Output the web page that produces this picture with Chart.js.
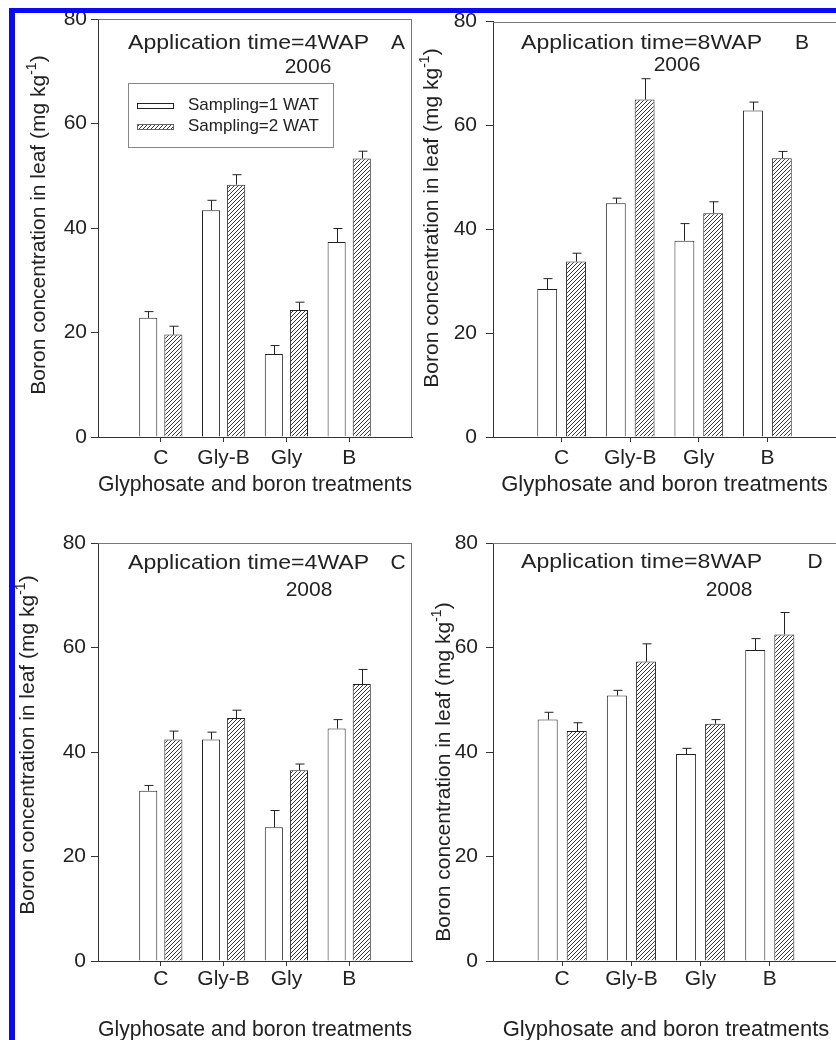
<!DOCTYPE html>
<html>
<head>
<meta charset="utf-8">
<script src="https://cdn.jsdelivr.net/npm/chart.js@4.4.0/dist/chart.umd.min.js"></script>
<style>
  html, body { margin: 0; padding: 0; background: #fff; }
  body { width: 836px; height: 1040px; overflow: hidden; position: relative; }
  .panel { position: absolute; }
  .mask { position: absolute; background: #fff; z-index: 5; }
  .edge { position: absolute; background: #0a0af5; z-index: 6; }
</style>
</head>
<body>
<div class="panel" style="left:0;top:0"><canvas id="pA" width="416" height="520"></canvas></div>
<div class="panel" style="left:416px;top:0"><canvas id="pB" width="424" height="520"></canvas></div>
<div class="panel" style="left:0;top:520px"><canvas id="pC" width="416" height="540"></canvas></div>
<div class="panel" style="left:416px;top:520px"><canvas id="pD" width="424" height="540"></canvas></div>

<div class="mask" style="left:0;top:0;width:836px;height:8px"></div>
<div class="mask" style="left:0;top:0;width:9px;height:1040px"></div>
<div class="edge" style="left:9px;top:8px;width:827px;height:5px"></div>
<div class="edge" style="left:9px;top:8px;width:6px;height:1032px"></div>

<script>
const categories = ['C', 'Gly-B', 'Gly', 'B'];
const yTickValues = [0, 20, 40, 60, 80];
const seriesNames = ['Sampling=1 WAT', 'Sampling=2 WAT'];
const xTitle = 'Glyphosate and boron treatments';

// A: application 4 WAP, 2006
const a1wat = [22.8, 43.4, 15.9, 37.3];
const a1watErr = [1.2, 1.9, 1.6, 2.6];
const a2wat = [19.6, 48.3, 24.3, 53.3];
const a2watErr = [1.6, 1.9, 1.5, 1.4];

// B: application 8 WAP, 2006
const b1wat = [28.5, 45.0, 37.8, 62.9];
const b1watErr = [2.0, 1.0, 3.3, 1.6];
const b2wat = [33.8, 65.0, 43.1, 53.7];
const b2watErr = [1.6, 4.0, 2.2, 1.3];

// C: application 4 WAP, 2008
const c1wat = [32.6, 42.4, 25.6, 44.5];
const c1watErr = [1.0, 1.4, 3.2, 1.7];
const c2wat = [42.4, 46.5, 36.5, 53.0];
const c2watErr = [1.6, 1.5, 1.2, 2.8];

// D: application 8 WAP, 2008
const d1wat = [46.2, 50.8, 39.6, 59.5];
const d1watErr = [1.4, 1.0, 1.1, 2.2];
const d2wat = [44.0, 57.3, 45.4, 62.5];
const d2watErr = [1.6, 3.4, 0.8, 4.2];

const FONT = '"Liberation Sans", Arial, sans-serif';
Chart.defaults.font.family = FONT;
Chart.defaults.color = '#222';

// empty slot on each side of the four groups
const xLabels = [''].concat(categories, ['']);
const pad = arr => [null].concat(arr, [null]);

const hatch = (() => {
  const c = document.createElement('canvas');
  c.width = 4; c.height = 4;
  const g = c.getContext('2d');
  g.fillStyle = '#fff';
  g.fillRect(0, 0, 4, 4);
  g.strokeStyle = '#3a3a3a';
  g.lineWidth = 1;
  g.beginPath();
  g.moveTo(0, 4); g.lineTo(4, 0);
  g.moveTo(-1, 1); g.lineTo(1, -1);
  g.moveTo(3, 5); g.lineTo(5, 3);
  g.stroke();
  return g.createPattern(c, 'repeat');
})();

const panels = [
  { id: 'pA', title: 'Application time=4WAP', letter: 'A', year: '2006',
    s1: a1wat, e1: a1watErr, s2: a2wat, e2: a2watErr, legend: true,
    pad: { left: 0, top: 19, right: 4, bottom: 0 }, yW: 98, xH: 83,
    xTickPad: 4, xTitlePad: 22, yTickPad: 4, cp: 0.80, bp: 0.72, frameRight: true,
    titleX: 128, titleY: 43, letterX: 398, yearX: 308, yearY: 67, yTitleX: 37, yTitleY: 225 },
  { id: 'pB', title: 'Application time=8WAP', letter: 'B', year: '2006',
    s1: b1wat, e1: b1watErr, s2: b2wat, e2: b2watErr,
    pad: { left: 0, top: 19, right: 0, bottom: 0 }, yW: 77, xH: 83,
    xTickPad: 4, xTitlePad: 22, yTickPad: 9, cp: 0.84, bp: 0.69, frameRight: false,
    titleX: 105, titleY: 43, letterX: 386, yearX: 261, yearY: 65, yTitleX: 14, yTitleY: 218 },
  { id: 'pC', title: 'Application time=4WAP', letter: 'C', year: '2008',
    s1: c1wat, e1: c1watErr, s2: c2wat, e2: c2watErr,
    pad: { left: 0, top: 23, right: 4, bottom: 0 }, yW: 98, xH: 99,
    xTickPad: 1, xTitlePad: 17, yTickPad: 5, cp: 0.80, bp: 0.72, frameRight: true,
    titleX: 128, titleY: 43, letterX: 398, yearX: 309, yearY: 70, yTitleX: 26, yTitleY: 225 },
  { id: 'pD', title: 'Application time=8WAP', letter: 'D', year: '2008',
    s1: d1wat, e1: d1watErr, s2: d2wat, e2: d2watErr,
    pad: { left: 0, top: 23, right: 0, bottom: 0 }, yW: 77, xH: 99,
    xTickPad: 1, xTitlePad: 17, yTickPad: 8, cp: 0.84, bp: 0.69, frameRight: false,
    titleX: 105, titleY: 42, letterX: 399, yearX: 313, yearY: 70, yTitleX: 26, yTitleY: 252 }
];

function drawYTitle(ctx, cx, cy) {
  const base = 'Boron concentration in leaf (mg kg';
  const sup = '-1';
  const tail = ')';
  ctx.save();
  ctx.translate(cx, cy);
  ctx.rotate(-Math.PI / 2);
  ctx.fillStyle = '#222';
  ctx.textAlign = 'left';
  ctx.textBaseline = 'alphabetic';
  ctx.font = '21px ' + FONT;
  const wBase = ctx.measureText(base).width;
  const wTail = ctx.measureText(tail).width;
  ctx.font = '14px ' + FONT;
  const wSup = ctx.measureText(sup).width;
  let x = -(wBase + wSup + wTail) / 2;
  ctx.font = '21px ' + FONT;
  ctx.fillText(base, x, 7.5);
  x += wBase;
  ctx.font = '14px ' + FONT;
  ctx.fillText(sup, x, -1.5);
  x += wSup;
  ctx.font = '21px ' + FONT;
  ctx.fillText(tail, x, 7.5);
  ctx.restore();
}

// the scanned lettering is a little wider than the font
function wideText(ctx, text, x, y, align) {
  ctx.save();
  ctx.translate(x, y);
  ctx.scale(1.1, 1);
  ctx.textAlign = align;
  ctx.fillText(text, 0, 0);
  ctx.restore();
}

function deco(p) {
  return {
    id: 'deco' + p.id,
    afterDatasetsDraw(chart) {
      const ctx = chart.ctx;
      const yScale = chart.scales.y;
      const errs = [p.e1, p.e2];
      ctx.save();
      ctx.strokeStyle = '#222';
      ctx.lineWidth = 1;
      chart.data.datasets.forEach((ds, di) => {
        chart.getDatasetMeta(di).data.forEach((bar, i) => {
          const v = ds.data[i];
          if (v === null) return;
          const x = Math.round(bar.x) + 0.5;
          const yTop = yScale.getPixelForValue(v + errs[di][i - 1]);
          ctx.beginPath();
          ctx.moveTo(x, bar.y);
          ctx.lineTo(x, yTop);
          ctx.moveTo(x - 4, yTop);
          ctx.lineTo(x + 5, yTop);
          ctx.stroke();
        });
      });
      ctx.restore();
    },
    afterDraw(chart) {
      const ctx = chart.ctx;
      const a = chart.chartArea;
      ctx.save();
      // top and right frame lines
      ctx.strokeStyle = '#777';
      ctx.lineWidth = 1;
      ctx.beginPath();
      ctx.moveTo(a.left, Math.round(a.top) + 0.5);
      ctx.lineTo(a.right, Math.round(a.top) + 0.5);
      if (p.frameRight) {
        ctx.moveTo(Math.round(a.right) - 0.5, a.top);
        ctx.lineTo(Math.round(a.right) - 0.5, a.bottom);
      }
      ctx.stroke();

      ctx.fillStyle = '#222';
      ctx.font = '21px ' + FONT;
      ctx.textBaseline = 'middle';
      wideText(ctx, p.title, p.titleX, p.titleY, 'left');
      ctx.textAlign = 'center';
      ctx.fillText(p.letter, p.letterX, p.titleY);
      ctx.fillText(p.year, p.yearX, p.yearY);

      if (p.legend) {
        ctx.strokeStyle = '#888';
        ctx.strokeRect(128.5, 83.5, 205, 64);
        ctx.strokeStyle = '#222';
        ctx.fillStyle = '#fff';
        ctx.fillRect(137, 103, 36, 5);
        ctx.strokeRect(137.5, 103.5, 36, 5);
        ctx.fillStyle = hatch;
        ctx.fillRect(137, 124, 36, 5);
        ctx.strokeStyle = '#666';
        ctx.strokeRect(137.5, 124.5, 36, 5);
        ctx.fillStyle = '#222';
        ctx.font = '17px ' + FONT;
        ctx.textAlign = 'left';
        ctx.fillText(seriesNames[0], 188, 105);
        ctx.fillText(seriesNames[1], 188, 126);
      }
      ctx.restore();
      drawYTitle(ctx, p.yTitleX, p.yTitleY);
    }
  };
}

panels.forEach(p => {
  new Chart(document.getElementById(p.id), {
    type: 'bar',
    data: {
      labels: xLabels,
      datasets: [
        { label: seriesNames[0], data: pad(p.s1), backgroundColor: '#fff', borderColor: '#222',
          borderWidth: 1, categoryPercentage: p.cp, barPercentage: p.bp },
        { label: seriesNames[1], data: pad(p.s2), backgroundColor: hatch, borderColor: '#222',
          borderWidth: 1, categoryPercentage: p.cp, barPercentage: p.bp }
      ]
    },
    options: {
      responsive: false,
      animation: false,
      devicePixelRatio: 1,
      layout: { padding: p.pad },
      plugins: { legend: { display: false }, tooltip: { enabled: false } },
      scales: {
        x: {
          offset: false,
          grid: {
            offset: false, drawOnChartArea: false, tickLength: 5,
            color: c => (xLabels[c.index] ? '#333' : 'rgba(0,0,0,0)')
          },
          border: { color: '#333' },
          ticks: { font: { size: 21 }, color: '#222', padding: p.xTickPad, maxRotation: 0, autoSkip: false },
          title: { display: true, text: xTitle, font: { size: 22 }, color: '#222',
            padding: { top: 0, bottom: p.xTitlePad } },
          afterFit: s => { s.height = p.xH; }
        },
        y: {
          min: 0,
          max: 80,
          afterBuildTicks: s => { s.ticks = yTickValues.map(v => ({ value: v })); },
          grid: { drawOnChartArea: false, tickLength: 7, color: '#333' },
          border: { color: '#333' },
          ticks: { font: { size: 21 }, color: '#222', padding: p.yTickPad },
          afterFit: s => { s.width = p.yW; }
        }
      }
    },
    plugins: [deco(p)]
  });
});
</script>
</body>
</html>
